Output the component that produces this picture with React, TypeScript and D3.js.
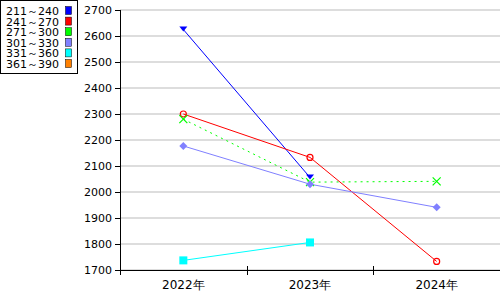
import React from "react";
import * as d3 from "d3";

const categories = ["2022年", "2023年", "2024年"];
const seriesNames = ["211～240", "241～270", "271～300", "301～330", "331～360", "361～390"];
const seriesColors = ["#0000ff", "#ff0000", "#00ff00", "#8080ff", "#00ffff", "#ff8000"];
const s211: (number | null)[] = [2625, 2056, null];
const s241: (number | null)[] = [2300, 2133, 1733];
const s271: (number | null)[] = [2280, 2038, 2041];
const s301: (number | null)[] = [2177, 2030, 1941];
const s331: (number | null)[] = [1737, 1806, null];
const s361: (number | null)[] = [null, null, null];
const seriesValues = [s211, s241, s271, s301, s331, s361];
const yTicks = [1700, 1800, 1900, 2000, 2100, 2200, 2300, 2400, 2500, 2600, 2700];

const W = 500, H = 300;
const left = 120, right = 500, top = 10, bottom = 270;

export default function App() {
  const x = d3.scaleBand().domain(categories).range([left, right]);
  const y = d3.scaleLinear().domain([1700, 2700]).range([bottom, top]);
  const font = "'DejaVu Sans', sans-serif";

  const marker = (i: number, cx: number, cy: number, key: string) => {
    const c = seriesColors[i];
    switch (i) {
      case 0:
        return <path key={key} d={`M${cx - 4},${cy - 3}L${cx + 4},${cy - 3}L${cx},${cy + 2}Z`} fill={c} />;
      case 1:
        return <circle key={key} cx={cx} cy={cy} r={3} fill="none" stroke={c} strokeWidth={1.2} />;
      case 2:
        return (
          <path key={key} d={`M${cx - 4},${cy - 4}L${cx + 4},${cy + 4}M${cx - 4},${cy + 4}L${cx + 4},${cy - 4}`} stroke={c} strokeWidth={1.2} />
        );
      case 3:
        return <path key={key} d={`M${cx},${cy - 4}L${cx + 4},${cy}L${cx},${cy + 4}L${cx - 4},${cy}Z`} fill={c} />;
      case 4:
        return <rect key={key} x={cx - 4} y={cy - 4} width={8} height={8} fill={c} />;
      default:
        return <rect key={key} x={cx - 3} y={cy - 3} width={6} height={6} fill={c} />;
    }
  };

  const line = d3
    .line<number | null>()
    .defined((d) => d !== null)
    .x((_, i) => (x(categories[i]) as number) + x.bandwidth() / 2)
    .y((d) => y(d as number));

  return (
    <svg width={W} height={H} style={{ position: "absolute", left: 0, top: 0, background: "#fff" }}>
      <rect x={0} y={0} width={W} height={H} fill="#fff" />
      {yTicks.map((t) => (
        <g key={t}>
          <line x1={left} x2={right} y1={y(t)} y2={y(t)} stroke="#bbbbbb" strokeWidth={1} />
          <line x1={left - 5} x2={left} y1={y(t) + 0.5} y2={y(t) + 0.5} stroke="#000" />
          <text x={left - 8} y={y(t) + 4} textAnchor="end" fontFamily={font} fontSize={11} fill="#000">
            {t}
          </text>
        </g>
      ))}
      <line x1={left + 0.5} x2={left + 0.5} y1={top} y2={bottom + 5} stroke="#000" />
      <line x1={left} x2={right} y1={bottom + 0.5} y2={bottom + 0.5} stroke="#000" />
      {categories.slice(1).map((c) => (
        <line key={c} x1={Math.round(x(c) as number) + 0.5} x2={Math.round(x(c) as number) + 0.5} y1={bottom - 4} y2={bottom + 5} stroke="#000" />
      ))}
      {categories.map((c) => (
        <text key={c} x={(x(c) as number) + x.bandwidth() / 2} y={289} textAnchor="middle" fontFamily={font} fontSize={12} fill="#000">
          {c}
        </text>
      ))}
      {seriesValues.map((vals, i) => (
        <path
          key={"l" + i}
          d={line(vals) || ""}
          fill="none"
          stroke={seriesColors[i]}
          strokeWidth={1}
          strokeDasharray={i === 2 ? "2,4" : undefined}
        />
      ))}
      {seriesValues.map((vals, i) =>
        vals.map((v, j) =>
          v === null ? null : marker(i, (x(categories[j]) as number) + x.bandwidth() / 2, y(v), `m${i}-${j}`)
        )
      )}
      <rect x={0.5} y={0.5} width={77} height={73} fill="#fff" stroke="#000" />
      {seriesNames.map((n, i) => (
        <g key={n}>
          <text x={6} y={15 + i * 10.6} fontFamily={font} fontSize={11} fill="#000">
            {n}
          </text>
          <rect x={65.5} y={6.5 + i * 10.6} width={6} height={8} fill={seriesColors[i]} stroke="#000" strokeWidth={0.5} />
        </g>
      ))}
    </svg>
  );
}
